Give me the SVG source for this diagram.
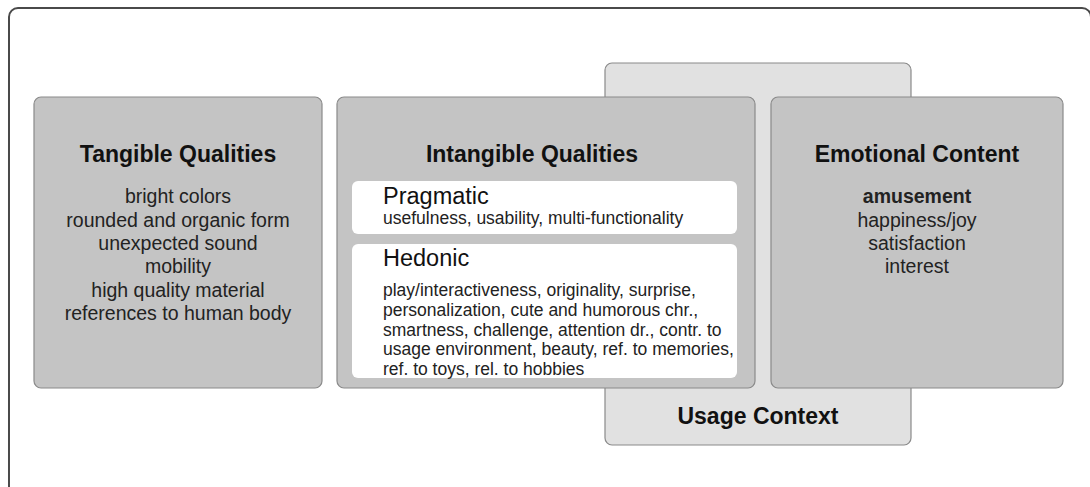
<svg xmlns="http://www.w3.org/2000/svg" width="1090" height="487" viewBox="0 0 1090 487">
<style>
text{font-family:"Liberation Sans",Arial,sans-serif;fill:#111}
.box{fill:#c4c4c4;stroke:#8a8a8a;stroke-width:1.2}
.ctx{fill:#e1e1e1;stroke:#8a8a8a;stroke-width:1.2}
.sub{fill:#ffffff;stroke:none}
.title{font-size:23px;font-weight:bold;text-anchor:middle}
.body{font-size:19.5px;text-anchor:middle;fill:#222}
.head{font-size:23.5px}
.small{font-size:17.5px;fill:#222}
</style>
<rect x="9" y="8" width="1082" height="492" rx="9" fill="#fff" stroke="#4a4a4a" stroke-width="2"/>
<g id="usage-context">
<rect class="ctx" x="605" y="63" width="306" height="382" rx="7"/>
<text class="title" x="758" y="424">Usage Context</text>
</g>
<g id="tangible-qualities">
<rect class="box" x="34" y="97" width="288" height="291" rx="7"/>
<text class="title" x="178" y="162">Tangible Qualities</text>
<text class="body" x="178" y="203">bright colors</text>
<text class="body" x="178" y="226.5">rounded and organic form</text>
<text class="body" x="178" y="250">unexpected sound</text>
<text class="body" x="178" y="273">mobility</text>
<text class="body" x="178" y="296.5">high quality material</text>
<text class="body" x="178" y="320">references to human body</text>
</g>
<g id="intangible-qualities">
<rect class="box" x="337" y="97" width="418" height="291" rx="7"/>
<text class="title" x="532" y="162">Intangible Qualities</text>
<g id="pragmatic">
<rect class="sub" x="352" y="181" width="385" height="53" rx="6"/>
<text class="head" x="383" y="204">Pragmatic</text>
<text class="small" x="383" y="224">usefulness, usability, multi-functionality</text>
</g>
<g id="hedonic">
<rect class="sub" x="352" y="244" width="385" height="134" rx="6"/>
<text class="head" x="383" y="265.5">Hedonic</text>
<text class="small" x="383" y="295.5">play/interactiveness, originality, surprise,</text>
<text class="small" x="383" y="315.5">personalization, cute and humorous chr.,</text>
<text class="small" x="383" y="335.5">smartness, challenge, attention dr., contr. to</text>
<text class="small" x="383" y="355">usage environment, beauty, ref. to memories,</text>
<text class="small" x="383" y="375">ref. to toys, rel. to hobbies</text>
</g>
</g>
<g id="emotional-content">
<rect class="box" x="771" y="97" width="292" height="291" rx="7"/>
<text class="title" x="917" y="162">Emotional Content</text>
<text class="body" x="917" y="203" font-weight="bold">amusement</text>
<text class="body" x="917" y="226.5">happiness/joy</text>
<text class="body" x="917" y="250">satisfaction</text>
<text class="body" x="917" y="273">interest</text>
</g>
</svg>
